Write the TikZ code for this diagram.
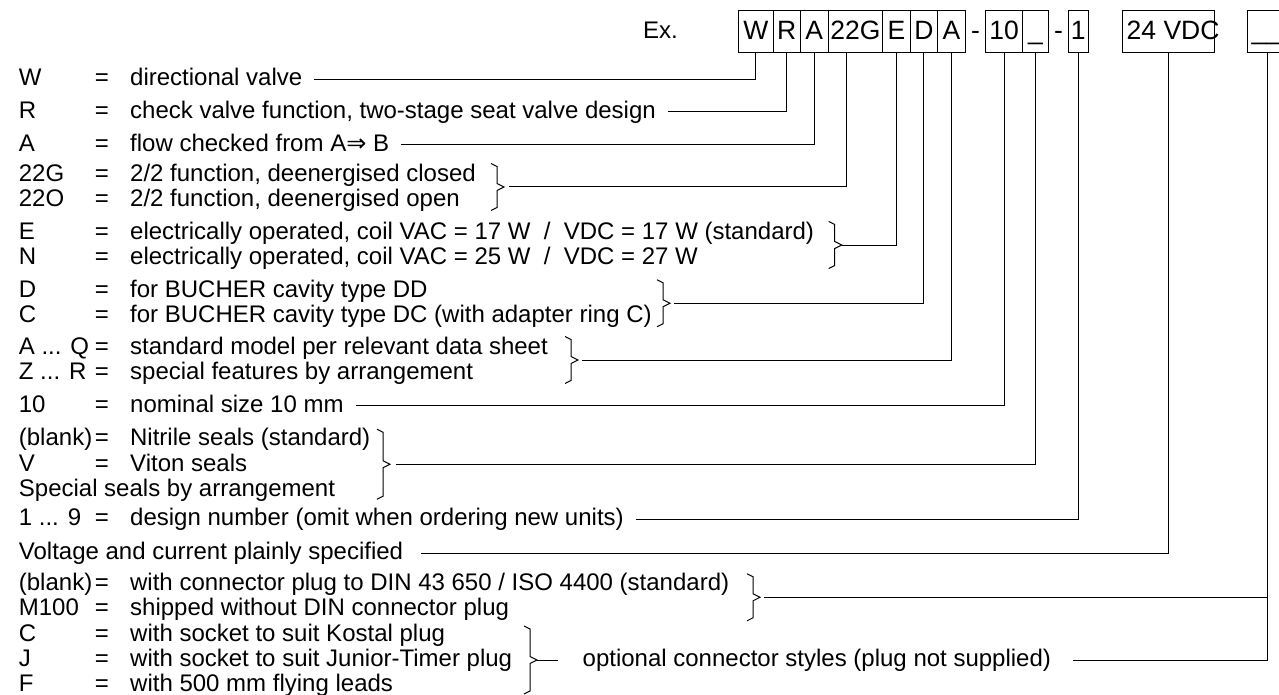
\documentclass[tikz,border=0pt]{standalone}
\usepackage{fontspec}
\setmainfont{Liberation Sans}
\newfontfamily\arrowfont{DejaVu Sans}
\newcommand{\keylbl}[1]{\makebox[76pt][l]{#1}\makebox[35.3pt][l]{=}}

\begin{document}
\begin{tikzpicture}[
    x=1pt, y=-1pt,
    cell/.style={draw, line width=1pt, minimum height=41.6pt, inner sep=0pt, text height=19.5pt, text depth=3.5pt, font=\fontsize{26.5}{26.5}\selectfont},
    row/.style={anchor=base west, inner sep=0pt, font=\fontsize{24}{24}\selectfont},
    wire/.style={line width=1pt},
    lead/.style={wire, shorten <=12pt},
    pics/bracket/.style={code={
        \draw[wire] (-13,-#1) -- (-7,-#1+3) -- (-7,-3.5) -- (0,0) -- (-7,3.5) -- (-7,#1-3) -- (-13,#1);
        \coordinate (-tip) at (0,0);
    }},
    ]
    \useasboundingbox (0,0) rectangle (1279,695);

    % Type code
    \node[row] (ex) at (643,38.5) {Ex.};
    \node[cell, minimum width=35pt] (bW) at (755.8,31.5) {W};
    \node[cell, minimum width=27pt] (bR) at (786.8,31.5) {R};
    \node[cell, minimum width=28pt] (bA) at (814.3,31.5) {A};
    \node[cell, minimum width=54.4pt] (bG) at (855.5,31.5) {22G};
    \node[cell, minimum width=27.3pt] (bE) at (896.35,31.5) {E};
    \node[cell, minimum width=27.7pt] (bD) at (923.85,31.5) {D};
    \node[cell, minimum width=27.3pt] (bQ) at (951.35,31.5) {A};
    \node[row, font=\fontsize{26.5}{26.5}\selectfont] (dash1) at (971,39.5) {-};
    \node[cell, minimum width=37pt] (bSize) at (1004.2,31.5) {10};
    \node[cell, minimum width=25.6pt] (bSeal) at (1035.5,31.5) {\_};
    \node[row, font=\fontsize{26.5}{26.5}\selectfont] (dash2) at (1054,39.5) {-};
    \node[cell, minimum width=20pt] (bDes) at (1078.3,31.5) {1};
    \node[cell, inner xsep=4pt] (bVolt) at (1168.5,31.5) {\makebox[83.6pt][l]{24 VDC}};
    \node[cell, inner xsep=4pt] (bPlug) at (1267.5,31.5) {\makebox[31.6pt][l]{\_\_}};

    % Key
    \node[row] (dW) at (18.7,85.8) {\keylbl{W}directional valve};
    \node[row] (dR) at (18.7,118.2) {\keylbl{R}check valve function, two-stage seat valve design};
    \node[row] (dA) at (18.7,151.5) {\keylbl{A}flow checked from A{\arrowfont ⇒} B};
    \node[row] (dG) at (18.7,181.5) {\keylbl{22G}2/2 function, deenergised closed};
    \node[row] (dO) at (18.7,206.5) {\keylbl{22O}2/2 function, deenergised open};
    \node[row] (dE) at (18.7,239.3) {\keylbl{E}electrically operated, coil VAC = 17 W \ / \ VDC = 17 W (standard)};
    \node[row] (dN) at (18.7,264.5) {\keylbl{N}electrically operated, coil VAC = 25 W \ / \ VDC = 27 W};
    \node[row] (dD) at (18.7,297.8) {\keylbl{D}for BUCHER cavity type DD};
    \node[row] (dC) at (18.7,322.8) {\keylbl{C}for BUCHER cavity type DC (with adapter ring C)};
    \node[row] (dAQ) at (18.7,354.5) {\keylbl{A ... Q}standard model per relevant data sheet};
    \node[row] (dZR) at (18.7,379.5) {\keylbl{Z ... R}special features by arrangement};
    \node[row] (dTen) at (18.7,412.2) {\keylbl{10}nominal size 10 mm};
    \node[row] (dNit) at (18.7,445.8) {\keylbl{(blank)}Nitrile seals (standard)};
    \node[row] (dVit) at (18.7,471) {\keylbl{V}Viton seals};
    \node[row] (dSpc) at (18.7,496) {Special seals by arrangement};
    \node[row] (dDes) at (18.7,525.8) {\keylbl{1 ... 9}design number (omit when ordering new units)};
    \node[row] (dVolt) at (18.7,559.5) {Voltage and current plainly specified};
    \node[row] (dDin) at (18.7,590.3) {\keylbl{(blank)}with connector plug to DIN 43 650 / ISO 4400 (standard)};
    \node[row] (dM) at (18.7,615.3) {\keylbl{M100}shipped without DIN connector plug};
    \node[row] (dKos) at (18.7,641.5) {\keylbl{C}with socket to suit Kostal plug};
    \node[row] (dJun) at (18.7,666.5) {\keylbl{J}with socket to suit Junior-Timer plug};
    \node[row] (dFly) at (18.7,691.5) {\keylbl{F}with 500 mm flying leads};
    \node[row] (dOpt) at (582.5,666.5) {optional connector styles (plug not supplied)};

    % Brackets
    \pic (kG) at (504,187) {bracket=23.5};
    \pic (kE) at (841.7,245) {bracket=23.5};
    \pic (kD) at (670,303.3) {bracket=23.5};
    \pic (kQ) at (578,360) {bracket=23.5};
    \pic (kS) at (390,464.3) {bracket=35};
    \pic (kP) at (760,597.3) {bracket=23.5};
    \pic (kO) at (537,660) {bracket=34};

    % Leads
    \draw[lead] ([yshift=6.5pt]dW.base east) -| (bW.south);
    \draw[lead] ([yshift=6.5pt]dR.base east) -| (bR.south);
    \draw[lead] ([yshift=6.5pt]dA.base east) -| (bA.south);
    \draw[wire, shorten <=5pt] (kG-tip) -| ([xshift=-8.8pt]bG.south);
    \draw[wire] (kE-tip) -| (bE.south);
    \draw[wire, shorten <=4pt] (kD-tip) -| (bD.south);
    \draw[wire, shorten <=4pt] (kQ-tip) -| (bQ.south);
    \draw[lead] ([yshift=6.5pt]dTen.base east) -| (bSize.south);
    \draw[wire, shorten <=6pt] (kS-tip) -| (bSeal.south);
    \draw[lead] ([yshift=6.5pt]dDes.base east) -| (bDes.south);
    \draw[lead, shorten <=18pt] ([yshift=6.5pt]dVolt.base east) -| (bVolt.south);
    \draw[wire, shorten <=4pt] (kP-tip) -- (kP-tip -| bPlug.south);
    \draw[wire, shorten >=25pt] (kO-tip) -- ([yshift=6.5pt]dOpt.base west);
    \draw[lead, shorten <=22pt] ([yshift=6.5pt]dOpt.base east) -| (bPlug.south);
\end{tikzpicture}
\end{document}
